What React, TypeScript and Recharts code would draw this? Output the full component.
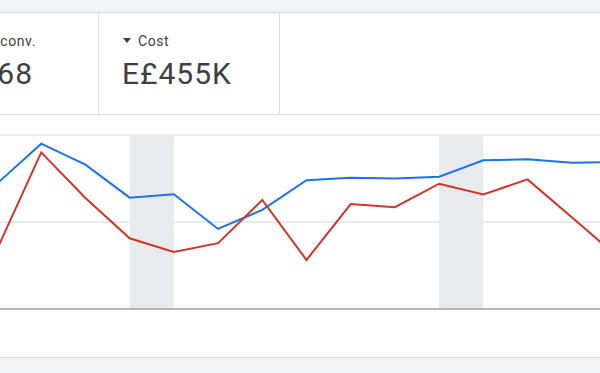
import React from "react";
import { LineChart, Line, XAxis, YAxis, CartesianGrid, ReferenceArea, ReferenceLine } from "recharts";

const dates = [
  "Jun 4", "Jun 5", "Jun 6", "Jun 7", "Jun 8", "Jun 9", "Jun 10", "Jun 11",
  "Jun 12", "Jun 13", "Jun 14", "Jun 15", "Jun 16", "Jun 17", "Jun 18",
];
const conversions = [72, 95, 83, 64, 66, 46, 57, 74, 75.5, 75, 76, 85.5, 86, 84, 84.5];
const cost = [
  20500, 54000, 38300, 24400, 19700, 22700, 37600, 16900,
  36200, 35100, 43200, 39500, 44700, 31600, 18500,
];
const weekends = [
  ["Jun 7", "Jun 8"],
  ["Jun 14", "Jun 15"],
];

const data = dates.map((date, i) => ({ date, conv: conversions[i], cost: cost[i] }));

const border = "#dadce0";
const textColor = "#3c4043";

function Triangle() {
  return (
    <svg width="8" height="5" style={{ marginRight: 7, verticalAlign: "middle", position: "relative", top: -2 }}>
      <polygon points="0,0 8,0 4,5" fill={textColor} />
    </svg>
  );
}

const labelStyle: React.CSSProperties = {
  position: "absolute",
  top: 33,
  fontSize: 14,
  lineHeight: "16px",
  letterSpacing: 0.6,
  whiteSpace: "nowrap",
};
const valueStyle: React.CSSProperties = {
  position: "absolute",
  top: 57,
  fontSize: 30,
  lineHeight: "34px",
  letterSpacing: 1,
  whiteSpace: "nowrap",
};

export default function App() {
  return (
    <div
      style={{
        position: "fixed",
        left: 0,
        top: 0,
        width: 600,
        height: 373,
        overflow: "hidden",
        background: "#fff",
        fontFamily: "Roboto, sans-serif",
        color: textColor,
      }}>
      {/* top strip */}
      <div style={{ position: "absolute", left: 0, top: 0, width: 600, height: 12, background: "#f1f3f4" }} />
      <div style={{ position: "absolute", left: 0, top: 12, width: 600, height: 1, background: border }} />
      <div style={{ position: "absolute", left: 0, top: 114, width: 600, height: 1, background: border }} />
      <div style={{ position: "absolute", left: 98, top: 13, width: 1, height: 101, background: border }} />
      <div style={{ position: "absolute", left: 279, top: 13, width: 1, height: 101, background: border }} />

      {/* scorecard 1, cut off at the left edge */}
      <div style={{ ...labelStyle, left: -164, width: 200, textAlign: "right" }}>
        <Triangle />Cost / conv.
      </div>
      <div style={{ ...valueStyle, left: -167, width: 200, textAlign: "right" }}>
        E£3.68
      </div>

      {/* scorecard 2 */}
      <div style={{ ...labelStyle, left: 123 }}>
        <Triangle />Cost
      </div>
      <div style={{ ...valueStyle, left: 122 }}>
        E£455K
      </div>

      {/* chart */}
      <div style={{ position: "absolute", left: -2.6, top: 125 }}>
        <LineChart width={619} height={194} data={data} margin={{ top: 10, right: 0, bottom: 10, left: 0 }}>
          <XAxis dataKey="date" hide />
          <YAxis yAxisId="conv" hide domain={[0, 100]} ticks={[0, 50, 100]} />
          <YAxis yAxisId="cost" hide domain={[0, 60000]} />
          <CartesianGrid yAxisId="conv" vertical={false} stroke="#e3e5e8" strokeWidth={1.5} />
          {weekends.map(([a, b]) => (
            <ReferenceArea key={a} yAxisId="conv" x1={a} x2={b} y1={0} y2={100} fill="#e8eaed" fillOpacity={1} stroke="none" />
          ))}
          <ReferenceLine yAxisId="conv" y={0} stroke="#a3a3a3" strokeWidth={1.5} />
          <Line yAxisId="conv" dataKey="conv" stroke="#1a73e8" strokeWidth={2} dot={false} isAnimationActive={false} />
          <Line yAxisId="cost" dataKey="cost" stroke="#d23427" strokeWidth={2} dot={false} isAnimationActive={false} />
        </LineChart>
      </div>

      {/* bottom strip */}
      <div style={{ position: "absolute", left: 0, top: 357, width: 600, height: 1, background: border }} />
      <div style={{ position: "absolute", left: 0, top: 358, width: 600, height: 15, background: "#f1f3f4" }} />
    </div>
  );
}
